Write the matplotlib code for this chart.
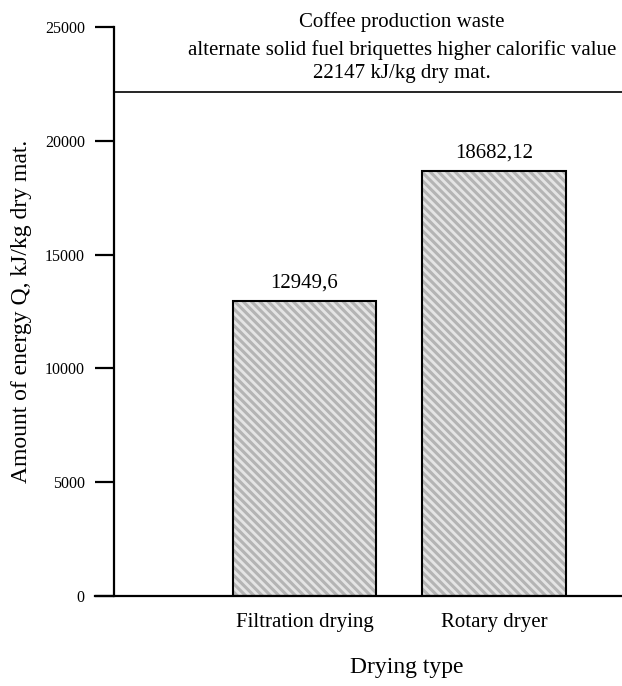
import matplotlib
matplotlib.use("Agg")
import matplotlib.pyplot as plt

categories = ["Filtration drying", "Rotary dryer"]
values = [12949.6, 18682.12]
value_labels = ["12949,6", "18682,12"]
reference_value = 22147
reference_lines = ["Coffee production waste",
                   "alternate solid fuel briquettes higher calorific value",
                   "22147 kJ/kg dry mat."]
yticks = [0, 5000, 10000, 15000, 20000, 25000]

plt.rcParams['font.family'] = ['Liberation Serif', 'DejaVu Serif']
plt.rcParams['hatch.linewidth'] = 2.2

fig = plt.figure(figsize=(6.22, 6.86), dpi=100)
ax = fig.add_axes([114/622, 1-596/686, (622-114)/622, (596-27)/686])

x = list(range(len(categories)))
# hatched fill (hatch colour follows edgecolor), then black outline on top
ax.bar(x, values, width=0.755, facecolor='#e4e4e4', edgecolor='#b4b4b4',
       linewidth=0, hatch='\\\\\\\\')
ax.bar(x, values, width=0.755, facecolor='none', edgecolor='black', linewidth=1.5)
for xi, v, lab in zip(x, values, value_labels):
    ax.text(xi, v + 380, lab, ha='center', va='bottom', fontsize=15)

ax.axhline(reference_value, color='black', linewidth=1.2)
cx = 0.515
ax.text(cx, 25230, reference_lines[0], ha='center', va='center', fontsize=15, clip_on=False)
ax.text(cx, 24000, reference_lines[1], ha='center', va='center', fontsize=15, clip_on=False)
ax.text(cx, 22950, reference_lines[2], ha='center', va='center', fontsize=15, clip_on=False)

ax.set_xlim(-1.005, 1.675)
ax.set_ylim(0, 25000)
ax.set_yticks(yticks)
ax.set_yticklabels([str(t) for t in yticks], fontsize=11.5)
ax.set_xticks(x)
ax.set_xticklabels(categories, fontsize=15)
ax.tick_params(axis='y', length=14, width=1.6, pad=7)
ax.tick_params(axis='x', length=0, pad=12)
for s in ['top', 'right']:
    ax.spines[s].set_visible(False)
for s in ['left', 'bottom']:
    ax.spines[s].set_linewidth(1.6)
ax.spines['bottom'].set_bounds(-1.005 - 0.1, 1.675)

ax.set_ylabel("Amount of energy Q, kJ/kg dry mat.", fontsize=17)
ax.yaxis.set_label_coords(-0.162, 0.5)
ax.set_xlabel("Drying type", fontsize=17)
ax.xaxis.set_label_coords(0.577, -0.107)

fig.savefig("out.png", dpi=100)
